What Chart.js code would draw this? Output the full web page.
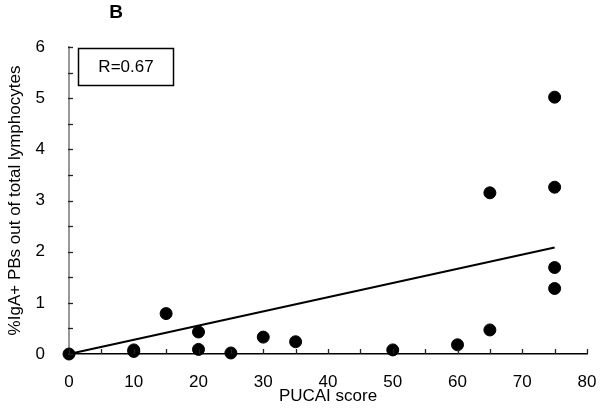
<!DOCTYPE html>
<html>
<head>
<meta charset="utf-8">
<script src="https://cdn.jsdelivr.net/npm/chart.js@4"></script>
<style>
  html, body { margin: 0; padding: 0; background: #fff; }
  #wrap { width: 600px; height: 410px; position: relative; }
</style>
</head>
<body>
<div id="wrap"><canvas id="chart" width="600" height="410"></canvas></div>
<script>
// PUCAI score vs %IgA+ PBs
const pucai = [0, 10, 10, 15, 20, 20, 25, 30, 35, 50, 60, 65, 65, 75, 75, 75, 75];
const igaPct = [0, 0.05, 0.08, 0.79, 0.43, 0.09, 0.02, 0.33, 0.24, 0.08, 0.18, 0.47, 3.15, 5.02, 3.26, 1.69, 1.28];

// regression line
const trendX = [0, 75];
const trendY = [0, 2.08];

const panelLabel = 'B';
const rLabel = 'R=0.67';
const xTitle = 'PUCAI score';
const yTitle = '%IgA+ PBs out of total lymphocytes';

const FONT = "'Liberation Sans', Arial, sans-serif";

// 안쪽으로 향하는 눈금 + 패널 라벨 + R 박스
const decorPlugin = {
    id: 'decor',
    afterDraw(chart) {
        const ctx = chart.ctx;
        const xs = chart.scales.x;
        const ys = chart.scales.y;
        const area = chart.chartArea;
        ctx.save();
        ctx.strokeStyle = '#222';
        ctx.lineWidth = 1.3;
        xs.ticks.forEach(t => {
            const px = Math.round(xs.getPixelForValue(t.value)) + 0.5;
            ctx.beginPath();
            ctx.moveTo(px, area.bottom);
            ctx.lineTo(px, area.bottom - 5);
            ctx.stroke();
        });
        ys.ticks.forEach(t => {
            const py = Math.round(ys.getPixelForValue(t.value)) + 0.5;
            ctx.beginPath();
            ctx.moveTo(area.left - 1, py);
            ctx.lineTo(area.left + 4, py);
            ctx.stroke();
        });

        // R box
        ctx.strokeStyle = '#000';
        ctx.lineWidth = 1.5;
        ctx.strokeRect(area.left + 9.5, area.top + 1.5, 95, 37);
        ctx.fillStyle = '#000';
        ctx.font = '17px ' + FONT;
        ctx.textAlign = 'center';
        ctx.textBaseline = 'middle';
        ctx.fillText(rLabel, area.left + 57, area.top + 20.5);

        // panel label
        ctx.font = 'bold 19px ' + FONT;
        ctx.fillText(panelLabel, 116, 13);
        ctx.restore();
    }
};

const ctx = document.getElementById('chart').getContext('2d');
new Chart(ctx, {
    type: 'scatter',
    data: {
        datasets: [
            {
                type: 'line',
                data: trendX.map((x, i) => ({ x: x, y: trendY[i] })),
                borderColor: '#000',
                borderWidth: 2,
                pointRadius: 0,
                fill: false,
                clip: false,
                order: 2
            },
            {
                data: pucai.map((x, i) => ({ x: x, y: igaPct[i] })),
                backgroundColor: '#000',
                borderColor: '#000',
                pointRadius: 6,
                pointHoverRadius: 6,
                clip: false,
                order: 1
            }
        ]
    },
    options: {
        responsive: false,
        animation: false,
        events: [],
        layout: {
            padding: { top: 47, right: 0, left: 0, bottom: 0 }
        },
        plugins: {
            legend: { display: false },
            tooltip: { enabled: false },
            title: { display: false }
        },
        scales: {
            x: {
                type: 'linear',
                min: 0,
                max: 80,
                afterFit(scale) { scale.height = 56; scale.paddingRight = 13; },
                grid: { display: false, drawTicks: false },
                border: { display: true, color: '#000', width: 1.5 },
                ticks: {
                    stepSize: 5,
                    padding: 18,
                    color: '#000',
                    font: { family: FONT, size: 17 },
                    maxRotation: 0,
                    autoSkip: false,
                    callback: v => (v % 10 === 0 ? v : '')
                },
                title: {
                    display: true,
                    text: xTitle,
                    color: '#000',
                    font: { family: FONT, size: 17 },
                    padding: { top: 0, bottom: 3 }
                }
            },
            y: {
                type: 'linear',
                min: 0,
                max: 6,
                afterFit(scale) { scale.width = 69; },
                grid: { display: false, drawTicks: false },
                border: { display: true, color: '#999', width: 2 },
                ticks: {
                    stepSize: 0.5,
                    padding: 24,
                    color: '#000',
                    font: { family: FONT, size: 17 },
                    autoSkip: false,
                    callback: v => (Number.isInteger(v) ? v : '')
                },
                title: {
                    display: true,
                    text: yTitle,
                    color: '#000',
                    font: { family: FONT, size: 17 },
                    padding: { top: 5, bottom: 0 }
                }
            }
        }
    },
    plugins: [decorPlugin]
});
</script>
</body>
</html>
